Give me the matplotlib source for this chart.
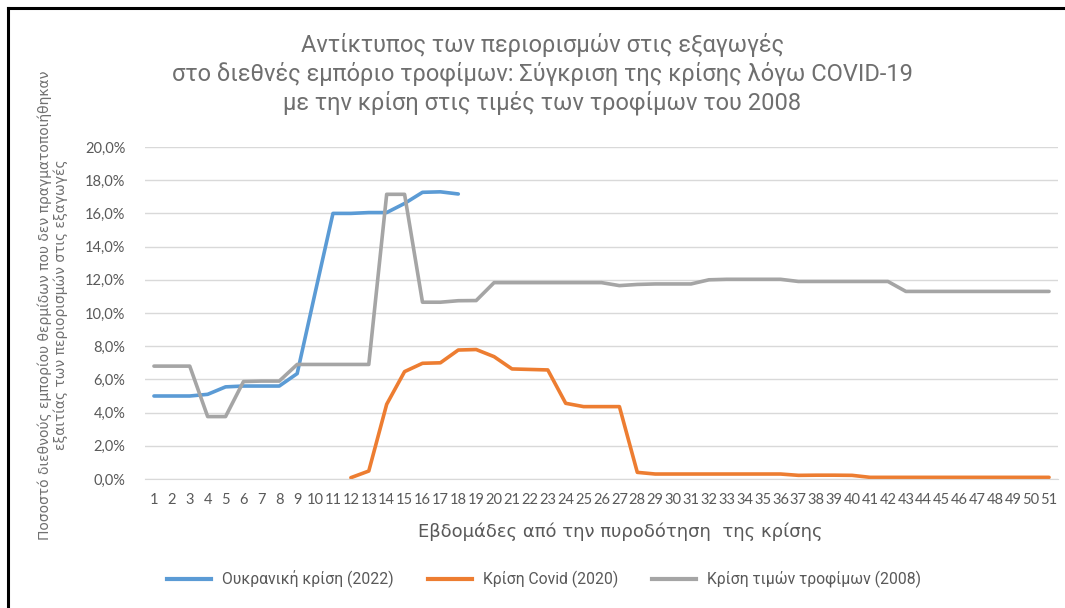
import matplotlib
matplotlib.use("Agg")
from matplotlib import pyplot as plt
from matplotlib.lines import Line2D
from matplotlib.ticker import FuncFormatter

weeks = list(range(1, 52))

ukraine_weeks = list(range(1, 19))
ukraine = [5.0, 5.0, 5.0, 5.1, 5.55, 5.6, 5.6, 5.6, 6.35, 11.2, 16.0, 16.0, 16.05, 16.05,
           16.6, 17.27, 17.3, 17.17]

covid_weeks = list(range(12, 52))
covid = [0.08, 0.48, 4.5, 6.47, 6.97, 7.0, 7.77, 7.8, 7.37, 6.63, 6.6, 6.57, 4.56, 4.36,
         4.36, 4.36, 0.4, 0.3, 0.3, 0.3, 0.3, 0.3, 0.3, 0.3, 0.3, 0.22, 0.23, 0.23, 0.22,
         0.1, 0.1, 0.1, 0.1, 0.1, 0.1, 0.1, 0.1, 0.1, 0.1, 0.1]

food2008 = [6.8, 6.8, 6.8, 3.76, 3.76, 5.87, 5.9, 5.9, 6.9, 6.9, 6.9, 6.9, 6.9, 17.15,
            17.15, 10.65, 10.65, 10.74, 10.75, 11.83, 11.83, 11.83, 11.83, 11.83, 11.83,
            11.83, 11.65, 11.72, 11.75, 11.75, 11.75, 12.0, 12.03, 12.03, 12.03, 12.03,
            11.9, 11.9, 11.9, 11.9, 11.9, 11.9, 11.3, 11.3, 11.3, 11.3, 11.3, 11.3, 11.3,
            11.3, 11.3]

labels = ["Ουκρανική κρίση (2022)", "Κρίση Covid (2020)", "Κρίση τιμών τροφίμων (2008)"]
colors = ["#5b9bd5", "#ed7d31", "#a5a5a5"]

fig = plt.figure(figsize=(10.65, 6.08), dpi=100)
ax = fig.add_axes([145 / 1065, 1 - 479 / 608, 913 / 1065, 332 / 608])

ax.plot(ukraine_weeks, ukraine, color=colors[0], lw=2.6, solid_capstyle="round")
ax.plot(covid_weeks, covid, color=colors[1], lw=2.6, solid_capstyle="round")
ax.plot(weeks, food2008, color=colors[2], lw=2.6, solid_capstyle="round")

ax.set_xlim(0.5, 51.5)
ax.set_ylim(0, 20)
ax.set_yticks(range(0, 21, 2))
ax.yaxis.set_major_formatter(FuncFormatter(lambda v, p: f"{v:.1f}%".replace(".", ",")))
ax.set_xticks(weeks)
ax.set_xticklabels([str(w) for w in weeks])
ax.grid(axis="y", color="#d9d9d9", lw=1)
ax.set_axisbelow(True)
for s in ["top", "right", "left"]:
    ax.spines[s].set_visible(False)
ax.spines["bottom"].set_color("#d9d9d9")
ax.tick_params(length=0, colors="#595959", labelsize=10.5)
ax.tick_params(axis="y", pad=14)
ax.tick_params(axis="x", pad=10)
for t in ax.get_xticklabels() + ax.get_yticklabels():
    t.set_family(["Lato", "DejaVu Sans"])

fig.text(0.509, 1 - 74 / 608,
         "Αντίκτυπος των περιορισμών στις εξαγωγές\n"
         "στο διεθνές εμπόριο τροφίμων: Σύγκριση της κρίσης λόγω COVID-19\n"
         "με την κρίση στις τιμές των τροφίμων του 2008",
         ha="center", va="center", fontsize=17, color="#6f6f6f",
         family=["Roboto", "DejaVu Sans"], linespacing=1.22)

fig.text(0.582, 1 - 532 / 608, "Εβδομάδες από την πυροδότηση  της κρίσης",
         ha="center", va="center", fontsize=13, color="#595959")

fig.text(53 / 1065, 1 - 305 / 608,
         "Ποσοστό διεθνούς εμπορίου θερμίδων που δεν πραγματοποιήθηκαν\n"
         "εξαιτίας των περιορισμών στις εξαγωγές",
         ha="center", va="center", rotation=90, fontsize=10, color="#707070",
         linespacing=1.1)

handles = [Line2D([], [], color=c, lw=3) for c in colors]
fig.legend(handles, labels, loc="center", bbox_to_anchor=(544 / 1065, 1 - 579 / 608),
           ncol=3, frameon=False, handlelength=2.8, handletextpad=0.7, columnspacing=2.2,
           prop={"family": ["Roboto", "DejaVu Sans"], "size": 11.3},
           labelcolor="#595959")

# frame of the original screenshot
fig.add_artist(Line2D([8 / 1065, 8 / 1065], [0, 1 - 8 / 608], color="black", lw=2.2,
                      transform=fig.transFigure))
fig.add_artist(Line2D([8 / 1065, 1], [1 - 8 / 608, 1 - 8 / 608], color="black", lw=2.2,
                      transform=fig.transFigure))

fig.savefig("out.png", dpi=100)
